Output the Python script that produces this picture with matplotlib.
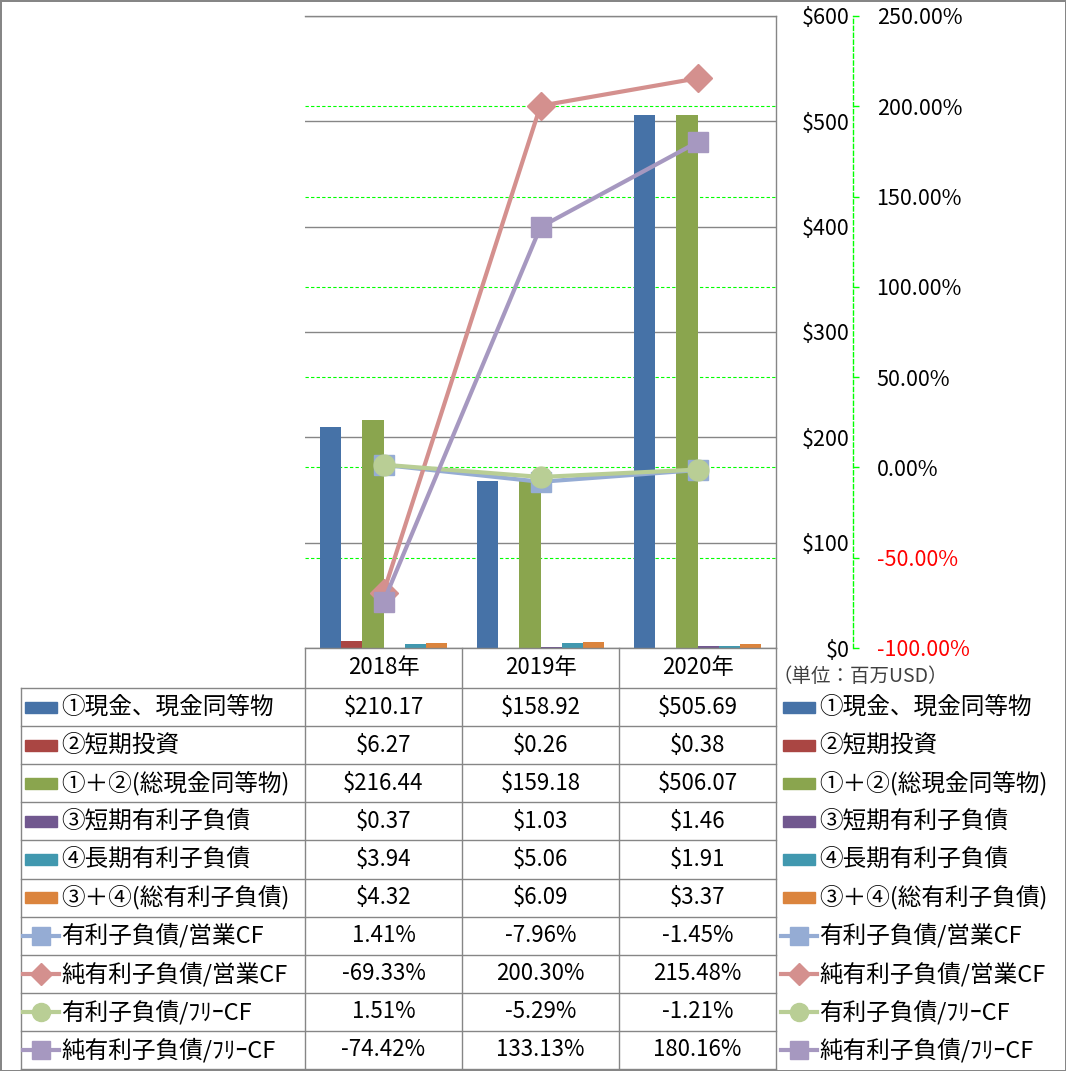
import numpy as np
import matplotlib.pyplot as plt
from matplotlib.lines import Line2D
from matplotlib.patches import Rectangle
from matplotlib.transforms import blended_transform_factory

plt.rcParams['font.family'] = ['Noto Sans CJK JP', 'DejaVu Sans']

# ---- data ----
years = ['2018年', '2019年', '2020年']

bar_names = ['①現金、現金同等物', '②短期投資', '①＋②(総現金同等物)',
             '③短期有利子負債', '④長期有利子負債', '③＋④(総有利子負債)']
cash = [210.17, 158.92, 505.69]
short_inv = [6.27, 0.26, 0.38]
total_cash = [216.44, 159.18, 506.07]
short_debt = [0.37, 1.03, 1.46]
long_debt = [3.94, 5.06, 1.91]
total_debt = [4.32, 6.09, 3.37]
bar_colors = ['#4672A7', '#AA4643', '#8AA54E', '#71588F', '#4198AF', '#DB843D']

line_names = ['有利子負債/営業CF', '純有利子負債/営業CF', '有利子負債/ﾌﾘｰCF', '純有利子負債/ﾌﾘｰCF']
debt_ocf = [1.41, -7.96, -1.45]
net_debt_ocf = [-69.33, 200.30, 215.48]
debt_fcf = [1.51, -5.29, -1.21]
net_debt_fcf = [-74.42, 133.13, 180.16]
line_colors = ['#95ACD4', '#D4908E', '#B9CE95', '#A698C0']
line_markers = ['s', 'D', 'o', 's']
marker_sizes = [15, 14, 15, 15]
key_sizes = [13, 11.5, 13, 13]

left_ticks = [0, 100, 200, 300, 400, 500, 600]
right_ticks = [-100, -50, 0, 50, 100, 150, 200, 250]

bar_series = [cash, short_inv, total_cash, short_debt, long_debt, total_debt]
line_series = [debt_ocf, net_debt_ocf, debt_fcf, net_debt_fcf]

# ---- layout helpers (pixels) ----
W, H = 1066, 1071
def fx(px): return px / W
def fy(py): return 1 - py / H

GRID = '#868686'
fig = plt.figure(figsize=(W / 100, H / 100), dpi=100)
fig.patch.set_edgecolor(GRID)
fig.patch.set_linewidth(2)

ax = fig.add_axes([fx(305), fy(648), fx(776) - fx(305), fy(16) - fy(648)])
ax.patch.set_alpha(0)
ax2 = ax.twinx()

x = np.arange(len(years))
bw = 0.134
for k, (vals, c) in enumerate(zip(bar_series, bar_colors)):
    ax.bar(x + (k - 2.5) * bw, vals, width=bw, color=c, zorder=2)

# primary axis (labels on right side)
ax.set_yticks(left_ticks)
ax.yaxis.grid(True, color=GRID, lw=1)
ax.set_axisbelow(True)
ax.set_xticks([])
ax.yaxis.tick_right()
ax.tick_params(axis='y', length=0, pad=53, labelsize=15.5, labelright=True, labelleft=False)
ax.set_yticklabels([f'${v}' for v in left_ticks])
ax.spines['left'].set_visible(False)
for s in ['top', 'right', 'bottom']:
    ax.spines[s].set_color(GRID)
    ax.spines[s].set_linewidth(1)

# secondary axis
ax2.set_yticks(right_ticks)
ax2.set_yticklabels([f'{v:.2f}%' for v in right_ticks])
for s in ['top', 'bottom', 'left']:
    ax2.spines[s].set_visible(False)
ax2.spines['right'].set_position(('axes', (853 - 305) / (776 - 305)))
ax2.spines['right'].set_color('#00FF00')
ax2.spines['right'].set_linestyle((0, (3, 2)))
ax2.spines['right'].set_linewidth(1)
ax2.tick_params(axis='y', color='#00FF00', length=4, width=1, pad=13, labelsize=15.5)

# secondary gridlines behind bars
trans_g = blended_transform_factory(ax.transAxes, ax2.transData)
for v in right_ticks[1:-1]:
    ax.plot([0, 1], [v, v], transform=trans_g, color='#00FF00', lw=0.8,
            ls=(0, (3, 2)), zorder=1)

for vals, c, m, ms in zip(line_series, line_colors, line_markers, marker_sizes):
    ax2.plot(x, vals, color=c, lw=3, marker=m, ms=ms, mfc=c, mec=c,
             solid_joinstyle='round', zorder=3, clip_on=False)

ax.set_xlim(-0.5, 2.5)
ax.set_ylim(0, 600)
ax2.set_ylim(-100, 250)

# tick label styling after all settings
for t in ax.yaxis.get_major_ticks():
    t.label2.set_ha('right')
for v, t in zip(right_ticks, ax2.yaxis.get_major_ticks()):
    t.label2.set_color('#FF0000' if v < 0 else 'black')

# ---- data table ----
trans_t = blended_transform_factory(ax.transData, fig.transFigure)

def hline(y, x0, x1):
    fig.add_artist(Line2D([fx(x0), fx(x1)], [fy(y), fy(y)], color=GRID, lw=1,
                          transform=fig.transFigure))

def vline(xp, y0, y1):
    fig.add_artist(Line2D([fx(xp), fx(xp)], [fy(y0), fy(y1)], color=GRID, lw=1,
                          transform=fig.transFigure))

row_top = 688
row_h = 38.1
n_rows = len(bar_names) + len(line_names)

for i in range(len(years) + 1):
    fig.add_artist(Line2D([i - 0.5, i - 0.5], [fy(648), fy(row_top + n_rows * row_h)],
                          color=GRID, lw=1, transform=trans_t))
vline(21, row_top, row_top + n_rows * row_h)
for r in range(n_rows + 1):
    hline(row_top + r * row_h, 21, 776)

for i, yr in enumerate(years):
    fig.text(i, fy(668), yr, transform=trans_t, ha='center', va='center', fontsize=16)

names = bar_names + line_names
values = bar_series + line_series
for r, (name, vals) in enumerate(zip(names, values)):
    yc = row_top + (r + 0.5) * row_h
    is_bar = r < len(bar_names)
    for i, v in enumerate(vals):
        txt = f'${v:.2f}' if is_bar else f'{v:.2f}%'
        fig.text(i, fy(yc), txt, transform=trans_t, ha='center', va='center', fontsize=16)
    for kx, tx in [(25, 61), (783, 819)]:
        if is_bar:
            fig.add_artist(Rectangle((fx(kx), fy(yc + 5.5)), fx(32), 11 / H,
                                     color=bar_colors[r], transform=fig.transFigure))
        else:
            k = r - len(bar_names)
            c = line_colors[k]
            fig.add_artist(Line2D([fx(kx - 2), fx(kx + 34)], [fy(yc), fy(yc)], color=c, lw=3,
                                  transform=fig.transFigure))
            fig.add_artist(Line2D([fx(kx + 16)], [fy(yc)], color=c, marker=line_markers[k],
                                  ms=key_sizes[k], mfc=c, mec=c, transform=fig.transFigure))
        fig.text(fx(tx), fy(yc), name, ha='left', va='center', fontsize=17)

fig.text(fx(860), fy(676), '（単位：百万USD）', ha='center', va='center',
         fontsize=14, color='#404040')

plt.savefig('out.png', dpi=100)
